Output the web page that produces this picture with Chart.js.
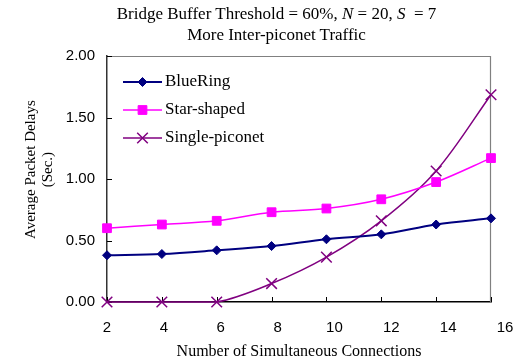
<!DOCTYPE html>
<html>
<head>
<meta charset="utf-8">
<script src="https://cdn.jsdelivr.net/npm/chart.js@4/dist/chart.umd.min.js"></script>
<style>
  html, body { margin: 0; padding: 0; background: #fff; }
  #wrap { position: relative; width: 519px; height: 361px; }
  #c { position: absolute; left: 0; top: 0; }
  #title {
    position: absolute; left: 34px; width: 485px; top: 3px;
    text-align: center; color: #000;
    font-family: "Liberation Serif", "Times New Roman", serif;
    font-size: 17px; line-height: 21px;
  }
</style>
</head>
<body>
<div id="wrap">
  <canvas id="c" width="519" height="361"></canvas>
  <div id="title">Bridge Buffer Threshold = 60%, <i>N</i> = 20, <i>S</i>&nbsp; = 7<br>More Inter-piconet Traffic</div>
</div>
<script>
// Number of simultaneous connections (x categories)
const connections = [2, 4, 6, 8, 10, 12, 14, 16];

// Average packet delay in seconds for each topology
const blueRing      = [0.38, 0.39, 0.42, 0.455, 0.51, 0.55, 0.63, 0.68];
const starShaped    = [0.60, 0.63, 0.66, 0.73, 0.76, 0.835, 0.975, 1.17];
const singlePiconet = [0.00, 0.00, 0.00, 0.15, 0.365, 0.66, 1.065, 1.685];

// Tick labels along the bottom
const xTickLabels = [2, 4, 6, 8, 10, 12, 14, 16];

const SERIF = '"Liberation Serif", "Times New Roman", serif';
const SANS  = '"Liberation Sans", Arial, sans-serif';
const LEAD  = '\u00a0\u00a0\u00a0\u00a0\u00a0';
const LABEL_SPAN = 398 / 384;   // bottom labels run a little wider than the plot

// Bottom tick-label axis sits on the plot's lower edge and is stretched past its right edge
const stretchLabels = {
  id: 'stretchLabels',
  afterLayout(chart) {
    const s = chart.scales.xl;
    const a = chart.chartArea;
    s.top = a.bottom;
    s.bottom = a.bottom + 40;
    s.height = 40;
    s.left = a.left;
    s.right = a.left + (a.right - a.left) * LABEL_SPAN;
    s.width = s.right - s.left;
    s.configure();
  }
};

// Grey top/right frame and short inward tick marks
const frameAndTicks = {
  id: 'frameAndTicks',
  beforeDatasetsDraw(chart) {
    const { ctx, chartArea: a, scales } = chart;
    ctx.save();
    ctx.strokeStyle = '#808080';
    ctx.lineWidth = 1.2;
    ctx.beginPath();
    ctx.moveTo(a.left, a.top + 0.5);
    ctx.lineTo(a.right - 0.5, a.top + 0.5);
    ctx.lineTo(a.right - 0.5, a.bottom);
    ctx.stroke();

    ctx.strokeStyle = '#000';
    ctx.lineWidth = 1;
    ctx.beginPath();
    scales.y.ticks.forEach(t => {
      const py = Math.round(scales.y.getPixelForValue(t.value)) + 0.5;
      ctx.moveTo(a.left, py);
      ctx.lineTo(a.left + 5, py);
    });
    scales.x.ticks.forEach((t, i) => {
      const px = Math.round(scales.x.getPixelForTick(i)) + 0.5;
      ctx.moveTo(px, a.bottom);
      ctx.lineTo(px, a.bottom - 5);
    });
    ctx.stroke();
    ctx.restore();
  }
};

// Legend drawn inside the plot, top-left
const innerLegend = {
  id: 'innerLegend',
  afterDatasetsDraw(chart) {
    const { ctx, chartArea: a } = chart;
    const draw = Chart.helpers && Chart.helpers.drawPoint;
    ctx.save();
    chart.data.datasets.forEach((ds, i) => {
      const y = a.top + 26 + i * 28;
      const x0 = a.left + 16, x1 = a.left + 55, xm = (x0 + x1) / 2;
      ctx.strokeStyle = ds.borderColor;
      ctx.lineWidth = ds.borderWidth;
      ctx.beginPath();
      ctx.moveTo(x0, y);
      ctx.lineTo(x1, y);
      ctx.stroke();
      ctx.fillStyle = ds.pointBackgroundColor;
      ctx.strokeStyle = ds.pointBorderColor;
      ctx.lineWidth = ds.pointBorderWidth;
      if (draw) {
        draw(ctx, { pointStyle: ds.pointStyle, rotation: 0, radius: ds.pointRadius, borderWidth: ds.pointBorderWidth }, xm, y);
      }
      ctx.fillStyle = '#000';
      ctx.font = '17px ' + SERIF;
      ctx.textAlign = 'left';
      ctx.textBaseline = 'middle';
      ctx.fillText(ds.label, a.left + 58, y);
    });
    ctx.restore();
  }
};

const makeSeries = (label, data, color, style, radius, width, pbw) => ({
  label, data,
  xAxisID: 'x', yAxisID: 'y',
  borderColor: color, borderWidth: width,
  backgroundColor: color,
  pointStyle: style, pointRadius: radius,
  pointBackgroundColor: color, pointBorderColor: color, pointBorderWidth: pbw,
  tension: 0.33, fill: false, clip: false
});

new Chart(document.getElementById('c'), {
  type: 'line',
  data: {
    labels: connections,
    datasets: [
      makeSeries('BlueRing', blueRing, '#000080', 'rectRot', 4.5, 2, 1),
      makeSeries('Star-shaped', starShaped, '#FF00FF', 'rect', 6.2, 1.5, 1),
      makeSeries('Single-piconet', singlePiconet, '#800080', 'crossRot', 7.5, 1.5, 1.5)
    ]
  },
  options: {
    responsive: false,
    animation: false,
    devicePixelRatio: 1,
    layout: { padding: { top: 56, right: 28, bottom: 0, left: 0 } },
    plugins: {
      legend: { display: false },
      title: { display: false },
      tooltip: { enabled: false }
    },
    scales: {
      x: {
        type: 'category',
        position: 'bottom',
        offset: false,
        weight: 1,
        ticks: { display: false },
        grid: { display: false },
        border: { color: '#000', width: 1.5 },
        title: {
          display: true,
          text: 'Number of Simultaneous Connections',
          color: '#000',
          font: { family: SERIF, size: 16, lineHeight: 1.1 },
          padding: { top: 0, bottom: 0 }
        },
        afterFit(s) { s.height = 59; }
      },
      xl: {
        type: 'linear',
        position: 'bottom',
        weight: 0,
        min: xTickLabels[0],
        max: xTickLabels[xTickLabels.length - 1],
        afterBuildTicks(s) { s.ticks = xTickLabels.map(v => ({ value: v })); },
        ticks: {
          padding: 9, color: '#000', maxRotation: 0, autoSkip: false,
          font: { family: SANS, size: 15 },
          callback: v => String(v)
        },
        grid: { display: false },
        border: { display: false },
        afterFit(s) { s.height = 0; }
      },
      y: {
        min: 0,
        max: 2,
        ticks: {
          stepSize: 0.5, padding: 4, color: '#000',
          font: { family: SANS, size: 15 },
          callback: v => Number(v).toFixed(2)
        },
        grid: { display: false },
        border: { color: '#333', width: 1.5 },
        title: {
          display: true,
          text: [LEAD + 'Average Packet Delays', LEAD + '(Sec.)'],
          color: '#000',
          font: { family: SERIF, size: 15, lineHeight: 1.1 },
          padding: { top: 23, bottom: 0 }
        },
        afterFit(s) { s.width = 107; }
      }
    }
  },
  plugins: [stretchLabels, frameAndTicks, innerLegend]
});
</script>
</body>
</html>
